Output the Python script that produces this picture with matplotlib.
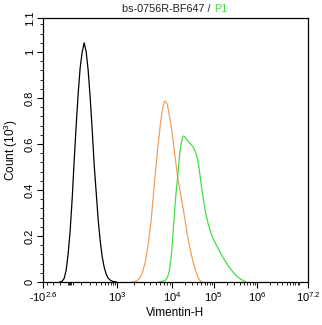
"""
Flow cytometry overlay histogram: bs-0756R-BF647 / P1, Vimentin-H channel.
"""

import numpy as np
import matplotlib
matplotlib.use("Agg")
import matplotlib.pyplot as plt
from matplotlib.ticker import FixedLocator, FixedFormatter, MultipleLocator

plt.rcParams["font.family"] = ["Liberation Sans", "DejaVu Sans"]
plt.rcParams["mathtext.fontset"] = "custom"
plt.rcParams["mathtext.rm"] = "Liberation Sans"
plt.rcParams["mathtext.it"] = "Liberation Sans"

# ---- data (Vimentin-H intensity, count in 10^3) ----
ctrl_x = [-101, -79, -58, -38, -19, 0, 17, 33, 51, 69, 87, 107, 128, 151, 175,
          202, 231, 262, 297, 336, 378, 425, 477, 534, 598, 675, 756, 946]
ctrl_y = [0, 0.003, 0.015, 0.05, 0.12, 0.22, 0.36, 0.52, 0.68, 0.82, 0.93,
          1.0, 1.04, 1.0, 0.92, 0.80, 0.66, 0.51, 0.39, 0.27, 0.18, 0.11,
          0.065, 0.035, 0.017, 0.008, 0.003, 0]

iso_x = [1899, 2224, 2521, 2857, 3238, 3671, 4161, 4716, 5346, 6061, 6586,
         7160, 7465, 8115, 8825, 9593, 10578, 11836, 13243, 14815, 16580,
         18550, 20760, 23220, 25980, 29070, 32520, 36390, 40720, 45550, 50970]
iso_y = [0, 0.004, 0.015, 0.04, 0.09, 0.17, 0.28, 0.43, 0.57, 0.69, 0.75,
         0.785, 0.787, 0.77, 0.72, 0.67, 0.60, 0.53, 0.46, 0.41, 0.36, 0.31,
         0.255, 0.20, 0.155, 0.115, 0.08, 0.05, 0.025, 0.008, 0]

p1_x = [5573, 6586, 7465, 8115, 8825, 9593, 10000, 10578, 11190, 11836, 12520,
        13243, 14010, 14815, 15670, 16580, 17540, 18550, 19620, 21960, 24550,
        27480, 30740, 32520, 36390, 40720, 43070, 48180, 53900, 63800, 75510,
        89380, 105500, 123900, 145500, 180300, 223300, 276600, 342600, 424500,
        554900]
p1_y = [0, 0.003, 0.008, 0.02, 0.05, 0.12, 0.18, 0.24, 0.30, 0.36, 0.41, 0.45,
        0.50, 0.55, 0.585, 0.61, 0.628, 0.635, 0.633, 0.62, 0.61, 0.60, 0.59,
        0.585, 0.565, 0.535, 0.51, 0.443, 0.38, 0.30, 0.245, 0.205, 0.175,
        0.15, 0.125, 0.095, 0.067, 0.045, 0.025, 0.012, 0]

major_vals = [-10 ** 2.6, 1e3, 1e4, 1e5, 1e6, 10 ** 7.2]
major_labels = [r"-10$^{2.6}$", r"10$^{3}$", r"10$^{4}$", r"10$^{5}$",
                r"10$^{6}$", r"10$^{7.2}$"]

# ---- biexponential-like axis transform ----
W = 150.0
T_KNOTS = np.array([-10 ** 2.6, 0, 1e3, 1e4, 1e5, 1e6, 10 ** 7.2])
P_KNOTS = np.array([0, 27, 74, 129, 170, 213, 264], dtype=float)


def _t(x):
	return np.arcsinh(np.asarray(x, dtype=float) / W) / np.log(10)


def forward(x):
	return np.interp(_t(x), _t(T_KNOTS), P_KNOTS)


def inverse(p):
	t = np.interp(np.asarray(p, dtype=float), P_KNOTS, _t(T_KNOTS))
	return W * np.sinh(t * np.log(10))


def minor_ticks():
	ticks = [-300, -200, -100, -20, -10, 0, 10, 20]
	ticks += list(range(100, 1000, 100))
	for dec in [1e3, 1e4, 1e5, 1e6]:
		ticks += [k * dec for k in range(2, 10)]
	ticks += [1e7]
	return ticks


def main():
	fig = plt.figure(figsize=(3.22, 3.25), dpi=100)
	ax = fig.add_axes([43 / 322, 43 / 325, 265 / 322, 264 / 325])

	ax.plot(ctrl_x, ctrl_y, color="black", lw=0.9)
	ax.plot(iso_x, iso_y, color="#f0a060", lw=0.9)
	ax.plot(p1_x, p1_y, color="#45dd45", lw=0.9)

	ax.set_xscale("function", functions=(forward, inverse))
	ax.set_xlim(-10 ** 2.6, 10 ** 7.2)
	ax.set_ylim(0, 1.148)

	ax.xaxis.set_major_locator(FixedLocator(major_vals))
	ax.xaxis.set_major_formatter(FixedFormatter(major_labels))
	ax.xaxis.set_minor_locator(FixedLocator(minor_ticks()))

	yt = [0, 0.2, 0.4, 0.6, 0.8, 1.0, 1.148]
	ax.set_yticks(yt)
	ax.set_yticklabels(["0", "0.2", "0.4", "0.6", "0.8", "1", "1.1"],
		rotation=90, va="center")
	ax.yaxis.set_minor_locator(MultipleLocator(0.04))

	ax.tick_params(which="major", length=4, width=0.8, labelsize=8,
		pad=2, color="black")
	ax.tick_params(which="minor", length=2, width=0.6, color="black")
	for s in ax.spines.values():
		s.set_linewidth(0.9)

	ax.set_xlabel("Vimentin-H", fontsize=8.5, labelpad=2)
	ax.set_ylabel(r"Count (10$^{3}$)", fontsize=8.5, labelpad=3)

	fig.text(211 / 322, 1 - 12 / 325, "bs-0756R-BF647 /", ha="right",
		va="baseline", fontsize=7.8, color="#222222")
	fig.text(214 / 322, 1 - 12 / 325, "P1", ha="left", va="baseline",
		fontsize=7.8, color="#45dd45")

	fig.savefig("out.png", dpi=100)


if __name__ == "__main__":
	main()
